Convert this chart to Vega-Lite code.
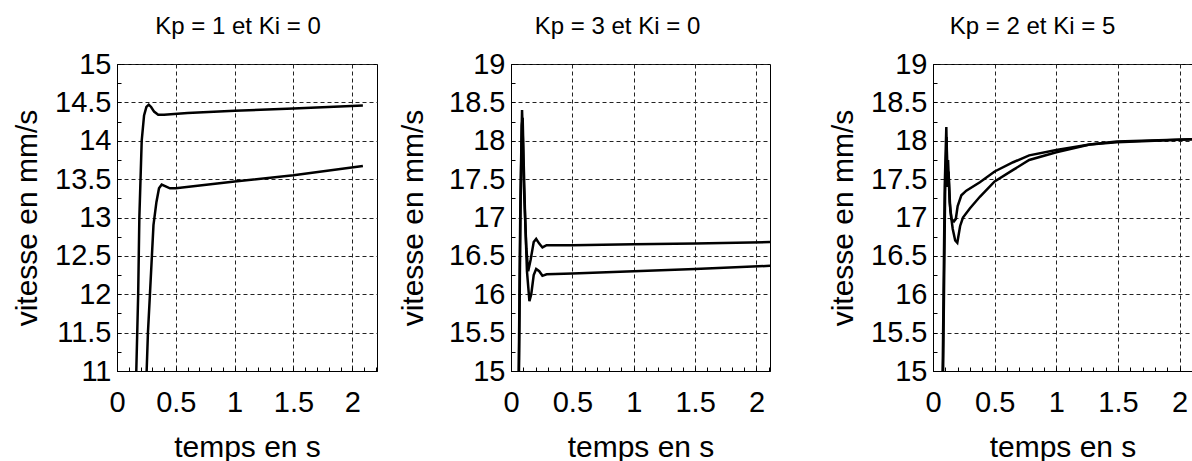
{
  "$schema": "https://vega.github.io/schema/vega-lite/v6.json",
  "padding": {"left": 12, "top": 14, "right": 0, "bottom": 0},
  "config": {
    "font": "Liberation Sans",
    "view": {"stroke": "black", "strokeWidth": 1},
    "axis": {
      "labelFont": "Liberation Sans", "labelFontSize": 29, "labelColor": "black",
      "titleFont": "Liberation Sans", "titleFontSize": 30, "titleFontWeight": "normal", "titleColor": "black",
      "domainColor": "black", "tickColor": "black", "tickSize": -4, "tickWidth": 1,
      "gridColor": "#222", "gridDash": [4, 3], "gridWidth": 1,
      "labelOverlap": false, "labelFlush": false, "labelBound": false, "format": "~g",
      "labelPadding": 10, "titlePadding": 12
    },
    "axisX": {"labelPadding": 21, "titlePadding": 15},
    "title": {"font": "Liberation Sans", "fontSize": 24, "fontWeight": "normal", "color": "black", "anchor": "middle", "offset": 11}
  },
  "datasets": {
    "p1": [
      {"essai": "a", "t": 0.15, "v": 9.5}, {"essai": "a", "t": 0.164, "v": 11}, {"essai": "a", "t": 0.18, "v": 12},
      {"essai": "a", "t": 0.19, "v": 13}, {"essai": "a", "t": 0.21, "v": 14}, {"essai": "a", "t": 0.23, "v": 14.33},
      {"essai": "a", "t": 0.25, "v": 14.44}, {"essai": "a", "t": 0.27, "v": 14.47}, {"essai": "a", "t": 0.29, "v": 14.44},
      {"essai": "a", "t": 0.315, "v": 14.38}, {"essai": "a", "t": 0.35, "v": 14.34}, {"essai": "a", "t": 0.4, "v": 14.34},
      {"essai": "a", "t": 0.6, "v": 14.36}, {"essai": "a", "t": 1.0, "v": 14.39}, {"essai": "a", "t": 1.5, "v": 14.42},
      {"essai": "a", "t": 2.09, "v": 14.46},
      {"essai": "b", "t": 0.24, "v": 10}, {"essai": "b", "t": 0.252, "v": 11}, {"essai": "b", "t": 0.263, "v": 11.5},
      {"essai": "b", "t": 0.28, "v": 12}, {"essai": "b", "t": 0.31, "v": 12.9}, {"essai": "b", "t": 0.335, "v": 13.2},
      {"essai": "b", "t": 0.357, "v": 13.38}, {"essai": "b", "t": 0.38, "v": 13.43}, {"essai": "b", "t": 0.45, "v": 13.38},
      {"essai": "b", "t": 0.5, "v": 13.38}, {"essai": "b", "t": 1.0, "v": 13.47}, {"essai": "b", "t": 1.5, "v": 13.55},
      {"essai": "b", "t": 2.09, "v": 13.67}
    ],
    "p2": [
      {"essai": "a", "t": 0.05, "v": 12.5}, {"essai": "a", "t": 0.063, "v": 15}, {"essai": "a", "t": 0.075, "v": 17.0},
      {"essai": "a", "t": 0.085, "v": 18.0}, {"essai": "a", "t": 0.09, "v": 18.4}, {"essai": "a", "t": 0.097, "v": 18.0},
      {"essai": "a", "t": 0.105, "v": 17.4}, {"essai": "a", "t": 0.115, "v": 17.0}, {"essai": "a", "t": 0.125, "v": 16.6},
      {"essai": "a", "t": 0.14, "v": 16.3}, {"essai": "a", "t": 0.16, "v": 16.45}, {"essai": "a", "t": 0.185, "v": 16.68},
      {"essai": "a", "t": 0.205, "v": 16.72}, {"essai": "a", "t": 0.23, "v": 16.66}, {"essai": "a", "t": 0.256, "v": 16.61},
      {"essai": "a", "t": 0.29, "v": 16.64}, {"essai": "a", "t": 0.5, "v": 16.64}, {"essai": "a", "t": 1.0, "v": 16.65},
      {"essai": "a", "t": 1.5, "v": 16.66}, {"essai": "a", "t": 2.11, "v": 16.68},
      {"essai": "b", "t": 0.05, "v": 12.3}, {"essai": "b", "t": 0.065, "v": 15}, {"essai": "b", "t": 0.078, "v": 17.2},
      {"essai": "b", "t": 0.088, "v": 18.2}, {"essai": "b", "t": 0.095, "v": 18.3}, {"essai": "b", "t": 0.102, "v": 17.8},
      {"essai": "b", "t": 0.115, "v": 17.0}, {"essai": "b", "t": 0.13, "v": 16.3}, {"essai": "b", "t": 0.15, "v": 15.91},
      {"essai": "b", "t": 0.165, "v": 16.0}, {"essai": "b", "t": 0.185, "v": 16.25}, {"essai": "b", "t": 0.205, "v": 16.33},
      {"essai": "b", "t": 0.23, "v": 16.3}, {"essai": "b", "t": 0.256, "v": 16.24}, {"essai": "b", "t": 0.29, "v": 16.26},
      {"essai": "b", "t": 0.5, "v": 16.27}, {"essai": "b", "t": 1.0, "v": 16.3}, {"essai": "b", "t": 1.5, "v": 16.33},
      {"essai": "b", "t": 2.11, "v": 16.37}
    ],
    "p3": [
      {"essai": "a", "t": 0.06, "v": 13}, {"essai": "a", "t": 0.08, "v": 15.2}, {"essai": "a", "t": 0.095, "v": 17.4},
      {"essai": "a", "t": 0.108, "v": 18.18}, {"essai": "a", "t": 0.115, "v": 17.6}, {"essai": "a", "t": 0.122, "v": 17.75},
      {"essai": "a", "t": 0.135, "v": 17.2}, {"essai": "a", "t": 0.15, "v": 16.98}, {"essai": "a", "t": 0.17, "v": 16.95},
      {"essai": "a", "t": 0.185, "v": 16.98}, {"essai": "a", "t": 0.2, "v": 17.15}, {"essai": "a", "t": 0.23, "v": 17.29},
      {"essai": "a", "t": 0.27, "v": 17.35}, {"essai": "a", "t": 0.38, "v": 17.46}, {"essai": "a", "t": 0.5, "v": 17.6},
      {"essai": "a", "t": 0.65, "v": 17.72}, {"essai": "a", "t": 0.78, "v": 17.81}, {"essai": "a", "t": 1.0, "v": 17.88},
      {"essai": "a", "t": 1.27, "v": 17.95}, {"essai": "a", "t": 1.49, "v": 17.99}, {"essai": "a", "t": 2.1, "v": 18.02},
      {"essai": "b", "t": 0.06, "v": 12.8}, {"essai": "b", "t": 0.082, "v": 15}, {"essai": "b", "t": 0.098, "v": 17.3},
      {"essai": "b", "t": 0.11, "v": 18.05}, {"essai": "b", "t": 0.118, "v": 17.4}, {"essai": "b", "t": 0.126, "v": 17.6},
      {"essai": "b", "t": 0.14, "v": 17.1}, {"essai": "b", "t": 0.16, "v": 16.85}, {"essai": "b", "t": 0.18, "v": 16.7},
      {"essai": "b", "t": 0.197, "v": 16.67}, {"essai": "b", "t": 0.22, "v": 16.89}, {"essai": "b", "t": 0.243, "v": 17.0},
      {"essai": "b", "t": 0.3, "v": 17.12}, {"essai": "b", "t": 0.38, "v": 17.27}, {"essai": "b", "t": 0.5, "v": 17.47},
      {"essai": "b", "t": 0.65, "v": 17.62}, {"essai": "b", "t": 0.78, "v": 17.75}, {"essai": "b", "t": 1.0, "v": 17.85},
      {"essai": "b", "t": 1.27, "v": 17.95}, {"essai": "b", "t": 1.49, "v": 17.98}, {"essai": "b", "t": 2.1, "v": 18.02}
    ]
  },
  "spacing": 20,
  "hconcat": [
    {
      "width": 260, "height": 307,
      "title": {"text": "Kp = 1 et Ki = 0", "dx": -9},
      "data": {"name": "p1"},
      "mark": {"type": "line", "clip": true, "strokeWidth": 2.5, "color": "black"},
      "encoding": {
        "x": {"field": "t", "type": "quantitative", "scale": {"domain": [0, 2.21], "nice": false, "zero": false},
          "axis": {"title": "temps en s",
            "values": [0, 0.1, 0.2, 0.3, 0.4, 0.5, 0.6, 0.7, 0.8, 0.9, 1, 1.1, 1.2, 1.3, 1.4, 1.5, 1.6, 1.7, 1.8, 1.9, 2, 2.1, 2.2],
            "labelExpr": "abs(datum.value*2-round(datum.value*2))<0.001 ? datum.label : ''",
            "gridOpacity": {"condition": {"test": "abs(datum.value*2-round(datum.value*2))>0.001", "value": 0}, "value": 1}}},
        "y": {"field": "v", "type": "quantitative", "scale": {"domain": [11, 15], "nice": false, "zero": false},
          "axis": {"title": "vitesse en mm/s",
            "values": [11, 11.25, 11.5, 11.75, 12, 12.25, 12.5, 12.75, 13, 13.25, 13.5, 13.75, 14, 14.25, 14.5, 14.75, 15],
            "labelExpr": "abs(datum.value*2-round(datum.value*2))<0.001 ? datum.label : ''",
            "gridOpacity": {"condition": {"test": "abs(datum.value*2-round(datum.value*2))>0.001", "value": 0}, "value": 1}}},
        "detail": {"field": "essai", "type": "nominal"}
      }
    },
    {
      "width": 259, "height": 307,
      "title": {"text": "Kp = 3 et Ki = 0", "dx": -23},
      "data": {"name": "p2"},
      "mark": {"type": "line", "clip": true, "strokeWidth": 2.5, "color": "black"},
      "encoding": {
        "x": {"field": "t", "type": "quantitative", "scale": {"domain": [0, 2.11], "nice": false, "zero": false},
          "axis": {"title": "temps en s",
            "values": [0, 0.1, 0.2, 0.3, 0.4, 0.5, 0.6, 0.7, 0.8, 0.9, 1, 1.1, 1.2, 1.3, 1.4, 1.5, 1.6, 1.7, 1.8, 1.9, 2, 2.1],
            "labelExpr": "datum.value > 2.05 ? '0000*' : (abs(datum.value*2-round(datum.value*2))<0.001 ? datum.label : '')",
            "labelOpacity": {"condition": {"test": "datum.value > 2.05", "value": 0}, "value": 1},
            "gridOpacity": {"condition": {"test": "abs(datum.value*2-round(datum.value*2))>0.001", "value": 0}, "value": 1}}},
        "y": {"field": "v", "type": "quantitative", "scale": {"domain": [15, 19], "nice": false, "zero": false},
          "axis": {"title": "vitesse en mm/s", "titlePadding": 20,
            "values": [15, 15.25, 15.5, 15.75, 16, 16.25, 16.5, 16.75, 17, 17.25, 17.5, 17.75, 18, 18.25, 18.5, 18.75, 19],
            "labelExpr": "abs(datum.value*2-round(datum.value*2))<0.001 ? datum.label : ''",
            "gridOpacity": {"condition": {"test": "abs(datum.value*2-round(datum.value*2))>0.001", "value": 0}, "value": 1}}},
        "detail": {"field": "essai", "type": "nominal"}
      }
    },
    {
      "width": 259, "height": 307,
      "title": {"text": "Kp = 2 et Ki = 5", "dx": -30},
      "data": {"name": "p3"},
      "mark": {"type": "line", "clip": true, "strokeWidth": 2.5, "color": "black"},
      "encoding": {
        "x": {"field": "t", "type": "quantitative", "scale": {"domain": [0, 2.1], "nice": false, "zero": false},
          "axis": {"title": "temps en s",
            "values": [0, 0.1, 0.2, 0.3, 0.4, 0.5, 0.6, 0.7, 0.8, 0.9, 1, 1.1, 1.2, 1.3, 1.4, 1.5, 1.6, 1.7, 1.8, 1.9, 2, 2.1],
            "labelExpr": "abs(datum.value*2-round(datum.value*2))<0.001 ? datum.label : ''",
            "gridOpacity": {"condition": {"test": "abs(datum.value*2-round(datum.value*2))>0.001", "value": 0}, "value": 1}}},
        "y": {"field": "v", "type": "quantitative", "scale": {"domain": [15, 19], "nice": false, "zero": false},
          "axis": {"title": "vitesse en mm/s",
            "values": [15, 15.25, 15.5, 15.75, 16, 16.25, 16.5, 16.75, 17, 17.25, 17.5, 17.75, 18, 18.25, 18.5, 18.75, 19],
            "labelExpr": "abs(datum.value*2-round(datum.value*2))<0.001 ? datum.label : ''",
            "gridOpacity": {"condition": {"test": "abs(datum.value*2-round(datum.value*2))>0.001", "value": 0}, "value": 1}}},
        "detail": {"field": "essai", "type": "nominal"}
      }
    }
  ]
}
